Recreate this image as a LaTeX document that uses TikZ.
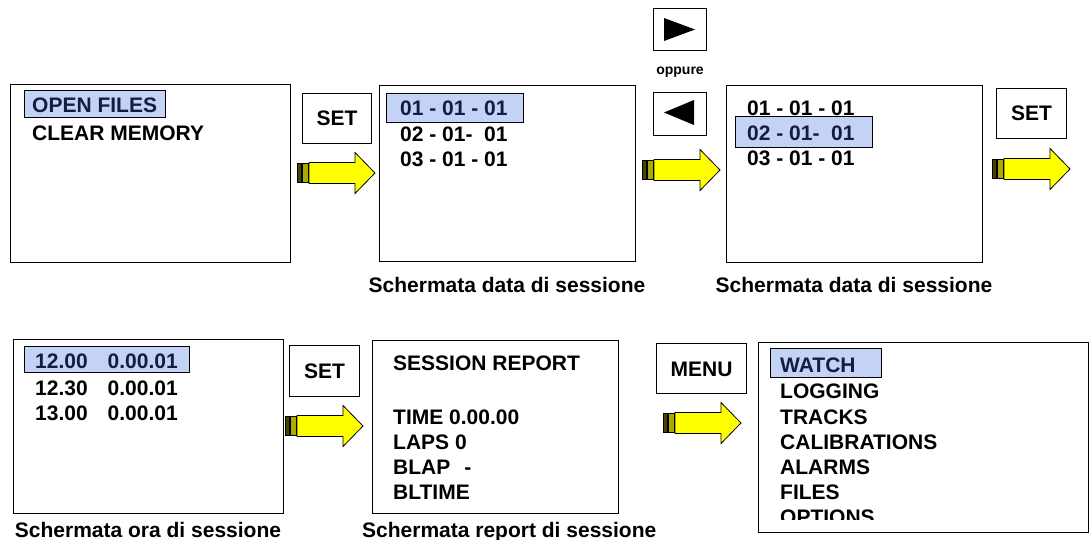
\documentclass[tikz,border=0pt]{standalone}
\usepackage{fontspec}
\setmainfont{Liberation Sans}
\definecolor{selblue}{RGB}{196,210,246}
\definecolor{seltext}{RGB}{20,28,70}
\definecolor{stripedark}{RGB}{70,70,0}
\definecolor{stripelight}{RGB}{170,170,0}
\definecolor{arrowyellow}{RGB}{255,255,0}

\tikzset{yarrow/.pic={
  \filldraw[fill=stripedark,line width=0.6pt] (0,-9.5) rectangle (4,9.5);
  \filldraw[fill=stripelight,line width=0.6pt] (5.5,-9.5) rectangle (11,9.5);
  \filldraw[fill=arrowyellow,line width=0.8pt] (12,-10.5) -- (58,-10.5) -- (58,-20.5)
    -- (78,0) -- (58,20.5) -- (58,10.5) -- (12,10.5) -- cycle;
}}

\begin{document}
\begin{tikzpicture}[x=1pt,y=-1pt,
  screen/.style={draw,line width=1.3pt,anchor=north west,inner sep=0pt},
  keybox/.style={draw,line width=1pt,anchor=north west,inner sep=0pt,
    text height=15pt,text depth=0pt,font=\fontsize{21}{25}\bfseries\selectfont},
  sel/.style={draw,line width=1.3pt,fill=selblue,anchor=north west,inner sep=0pt},
  item/.style={anchor=west,inner sep=0pt,text height=15pt,text depth=0pt,
    font=\fontsize{21}{25}\bfseries\selectfont},
  selitem/.style={item,text=seltext},
  caption/.style={inner sep=0pt,text height=15pt,text depth=0pt,
    font=\fontsize{21}{25}\bfseries\selectfont}]

\useasboundingbox (0,0) rectangle (1092,540);

% first row
\node[screen,minimum width=280pt,minimum height=178pt] (files) at (10,84) {};
\node[sel,minimum width=141pt,minimum height=27pt] (selopen) at (24,90) {};
\node[selitem] (open) at (32,105) {OPEN FILES};
\node[item] (clear) at (32,133) {CLEAR MEMORY};

\node[keybox,minimum width=69pt,minimum height=50pt] (set1) at (302,93) {SET};
\pic (arrA) at (297,173) {yarrow};

\node[screen,minimum width=256pt,minimum height=176pt] (dateA) at (379,85) {};
\node[sel,minimum width=137pt,minimum height=29pt] (seldateA) at (386,93) {};
\node[selitem] (dA1) at (400,108) {01 - 01 - 01};
\node[item] (dA2) at (400,134) {02 - 01-\ \ 01};
\node[item] (dA3) at (400,159) {03 - 01 - 01};
\node[caption] (capA) at (507,285) {Schermata data di sessione};

\node[keybox,minimum width=53pt,minimum height=42pt] (right) at (653,8) {};
\fill (664,18) -- (695,29.5) -- (664,41) -- cycle;
\node[inner sep=0pt,font=\fontsize{14}{16}\bfseries\selectfont] (or) at (680,72) {oppure};
\node[keybox,minimum width=53pt,minimum height=43pt] (left) at (653,92) {};
\fill (694,100) -- (664,112.5) -- (694,125) -- cycle;
\pic (arrB) at (642,170) {yarrow};

\node[screen,minimum width=256pt,minimum height=177pt] (dateB) at (726,85) {};
\node[sel,minimum width=137pt,minimum height=31pt] (seldateB) at (735,116) {};
\node[item] (dB1) at (747,108) {01 - 01 - 01};
\node[selitem] (dB2) at (747,133) {02 - 01-\ \ 01};
\node[item] (dB3) at (747,158) {03 - 01 - 01};
\node[caption] (capB) at (854,285) {Schermata data di sessione};

\node[keybox,minimum width=70pt,minimum height=50pt] (set2) at (996,88) {SET};
\pic (arrC) at (992,169) {yarrow};

% second row
\node[screen,minimum width=270pt,minimum height=174pt] (hour) at (13,339) {};
\node[sel,minimum width=165pt,minimum height=26pt] (selhour) at (24,346) {};
\node[selitem] (h1) at (35,361) {12.00\hspace{20pt}0.00.01};
\node[item] (h2) at (35,388) {12.30\hspace{20pt}0.00.01};
\node[item] (h3) at (35,413) {13.00\hspace{20pt}0.00.01};
\node[caption] (capC) at (148,530) {Schermata ora di sessione};

\node[keybox,minimum width=70pt,minimum height=51pt] (set3) at (289,345) {SET};
\pic (arrD) at (285,426) {yarrow};

\node[screen,minimum width=246pt,minimum height=173pt] (report) at (372,340) {};
\node[item] (r1) at (393,363) {SESSION REPORT};
\node[item] (r2) at (393,417) {TIME 0.00.00};
\node[item] (r3) at (393,442) {LAPS 0};
\node[item] (r4) at (393,467) {BLAP\hspace{14pt}-};
\node[item] (r5) at (393,492) {BLTIME};
\node[caption,anchor=west] (capD) at (362,530) {Schermata report di sessione};

\node[keybox,minimum width=90pt,minimum height=50pt] (menu) at (656,343) {MENU};
\pic (arrE) at (663,423) {yarrow};

\node[screen,minimum width=330pt,minimum height=190pt] (main) at (758,342) {};
\node[sel,minimum width=111pt,minimum height=29pt] (selmain) at (770,348) {};
\begin{scope}
\clip (758,342) rectangle (1088,519);
\node[selitem] (m1) at (780,365) {WATCH};
\node[item] (m2) at (780,391) {LOGGING};
\node[item] (m3) at (780,417) {TRACKS};
\node[item] (m4) at (780,442) {CALIBRATIONS};
\node[item] (m5) at (780,467) {ALARMS};
\node[item] (m6) at (780,492) {FILES};
\node[item] (m7) at (780,517) {OPTIONS};
\end{scope}

\end{tikzpicture}
\end{document}
